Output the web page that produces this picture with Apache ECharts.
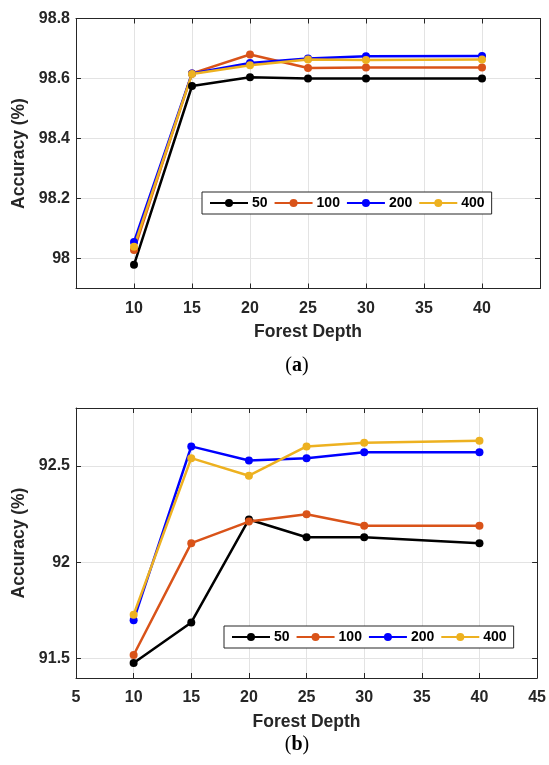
<!DOCTYPE html>
<html>
<head>
<meta charset="utf-8">
<script src="https://cdn.jsdelivr.net/npm/echarts@6/dist/echarts.min.js"></script>
<style>
  html, body { margin: 0; padding: 0; background: #fff; }
  #main { width: 549px; height: 765px; }
</style>
</head>
<body>
<div id="main"></div>
<script>
var myChart = echarts.init(document.getElementById('main'));

// forest depth (x) and number of trees (legend)
var depths = [10, 15, 20, 25, 30, 40];
var treeCounts = ['50', '100', '200', '400'];
var colors = ['#000000', '#D95319', '#0000FF', '#EDB120'];

// (a)
var accA_50  = [97.979, 98.575, 98.604, 98.600, 98.600, 98.600];
var accA_100 = [98.028, 98.617, 98.680, 98.635, 98.637, 98.637];
var accA_200 = [98.055, 98.617, 98.652, 98.667, 98.674, 98.675];
var accA_400 = [98.039, 98.615, 98.644, 98.663, 98.662, 98.663];
var ticksA = [98, 98.2, 98.4, 98.6, 98.8];

// (b)
var accB_50  = [91.478, 91.688, 92.222, 92.130, 92.130, 92.099];
var accB_100 = [91.519, 92.099, 92.211, 92.249, 92.189, 92.189];
var accB_200 = [91.700, 92.601, 92.528, 92.540, 92.570, 92.570];
var accB_400 = [91.728, 92.540, 92.449, 92.601, 92.620, 92.630];
var ticksB = [91.5, 92, 92.5];

var txt = '#262626';
var fontFam = '"Liberation Sans", Arial, sans-serif';

var toPoints = function (ys) {
    return depths.map(function (d, i) { return [d, ys[i]]; });
};

var makeSeries = function (name, ys, color, axisIdx) {
    return {
        name: name,
        type: 'line',
        xAxisIndex: axisIdx,
        yAxisIndex: axisIdx,
        data: toPoints(ys),
        symbol: 'circle',
        symbolSize: 8,
        lineStyle: { color: color, width: 2.5 },
        itemStyle: { color: color },
        animation: false
    };
};

var xAxisCfg = function (grid, pos, labels, hideEnds) {
    return {
        type: 'value',
        gridIndex: grid,
        position: pos,
        min: 5,
        max: 45,
        interval: 5,
        name: pos === 'bottom' ? 'Forest Depth' : '',
        nameLocation: 'middle',
        nameGap: 35,
        nameTextStyle: { color: txt, fontSize: 17.5, fontWeight: 'bold', fontFamily: fontFam },
        axisLine: { show: true, onZero: false, lineStyle: { color: txt, width: 1 } },
        axisTick: { show: true, inside: true, length: 5, lineStyle: { color: txt } },
        axisLabel: {
            show: labels,
            margin: 12,
            color: txt,
            fontSize: 16,
            fontWeight: 'bold',
            fontFamily: fontFam,
            formatter: function (v) {
                if (hideEnds && (v === 5 || v === 45)) return '';
                return v;
            }
        },
        splitLine: { show: pos === 'bottom', lineStyle: { color: '#e3e3e3', width: 1 } }
    };
};

var yAxisCfg = function (grid, pos, labels, min, max, ticks) {
    return {
        type: 'value',
        gridIndex: grid,
        position: pos,
        min: min,
        max: max,
        name: pos === 'left' ? 'Accuracy (%)' : '',
        nameLocation: 'middle',
        nameGap: 43,
        nameTextStyle: { color: txt, fontSize: 17.5, fontWeight: 'bold', fontFamily: fontFam },
        axisLine: { show: true, onZero: false, lineStyle: { color: txt, width: 1 } },
        axisTick: { show: true, inside: true, length: 5, customValues: ticks, lineStyle: { color: txt } },
        axisLabel: {
            show: labels,
            margin: 6,
            color: txt,
            fontSize: 16,
            fontWeight: 'bold',
            fontFamily: fontFam,
            customValues: ticks
        },
        splitLine: { show: pos === 'left', lineStyle: { color: '#e3e3e3', width: 1 } }
    };
};

var legendCfg = function (left, top) {
    return {
        data: treeCounts,
        left: left,
        top: top,
        orient: 'horizontal',
        itemWidth: 38,
        itemHeight: 10,
        itemGap: 6,
        padding: [4, 7],
        borderColor: txt,
        borderWidth: 1,
        backgroundColor: '#fff',
        selectedMode: false,
        textStyle: { color: '#000', fontSize: 14, fontWeight: 'bold', fontFamily: fontFam, padding: [0, 0, 0, -1] }
    };
};

var captionStyle = function (letter, y) {
    return {
        type: 'text',
        x: 297,
        y: y,
        style: {
            text: '{p|(}{b|' + letter + '}{p|)}',
            align: 'center',
            verticalAlign: 'middle',
            rich: {
                p: { fontFamily: '"Liberation Serif", serif', fontSize: 20, fill: '#000' },
                b: { fontFamily: '"Liberation Serif", serif', fontSize: 20, fontWeight: 'bold', fill: '#000' }
            }
        }
    };
};

option = {
    backgroundColor: '#ffffff',
    animation: false,
    grid: [
        { left: 76, top: 18.5, width: 464, height: 270 },
        { left: 76, top: 408, width: 464, height: 270 }
    ],
    xAxis: [
        xAxisCfg(0, 'bottom', true, true),
        xAxisCfg(0, 'top', false, true),
        xAxisCfg(1, 'bottom', true, false),
        xAxisCfg(1, 'top', false, false)
    ],
    yAxis: [
        yAxisCfg(0, 'left', true, 97.9, 98.8, ticksA),
        yAxisCfg(0, 'right', false, 97.9, 98.8, ticksA),
        yAxisCfg(1, 'left', true, 91.4, 92.8, ticksB),
        yAxisCfg(1, 'right', false, 91.4, 92.8, ticksB)
    ],
    legend: [
        legendCfg(202, 192),
        legendCfg(224, 626)
    ],
    graphic: [
        captionStyle('a', 366),
        captionStyle('b', 745)
    ],
    series: [
        makeSeries('50', accA_50, colors[0], 0),
        makeSeries('100', accA_100, colors[1], 0),
        makeSeries('200', accA_200, colors[2], 0),
        makeSeries('400', accA_400, colors[3], 0),
        makeSeries('50', accB_50, colors[0], 2),
        makeSeries('100', accB_100, colors[1], 2),
        makeSeries('200', accB_200, colors[2], 2),
        makeSeries('400', accB_400, colors[3], 2)
    ]
};

// series at index 2 use xAxis 2 / yAxis 2 (grid 1)
myChart.setOption(option);
</script>
</body>
</html>
